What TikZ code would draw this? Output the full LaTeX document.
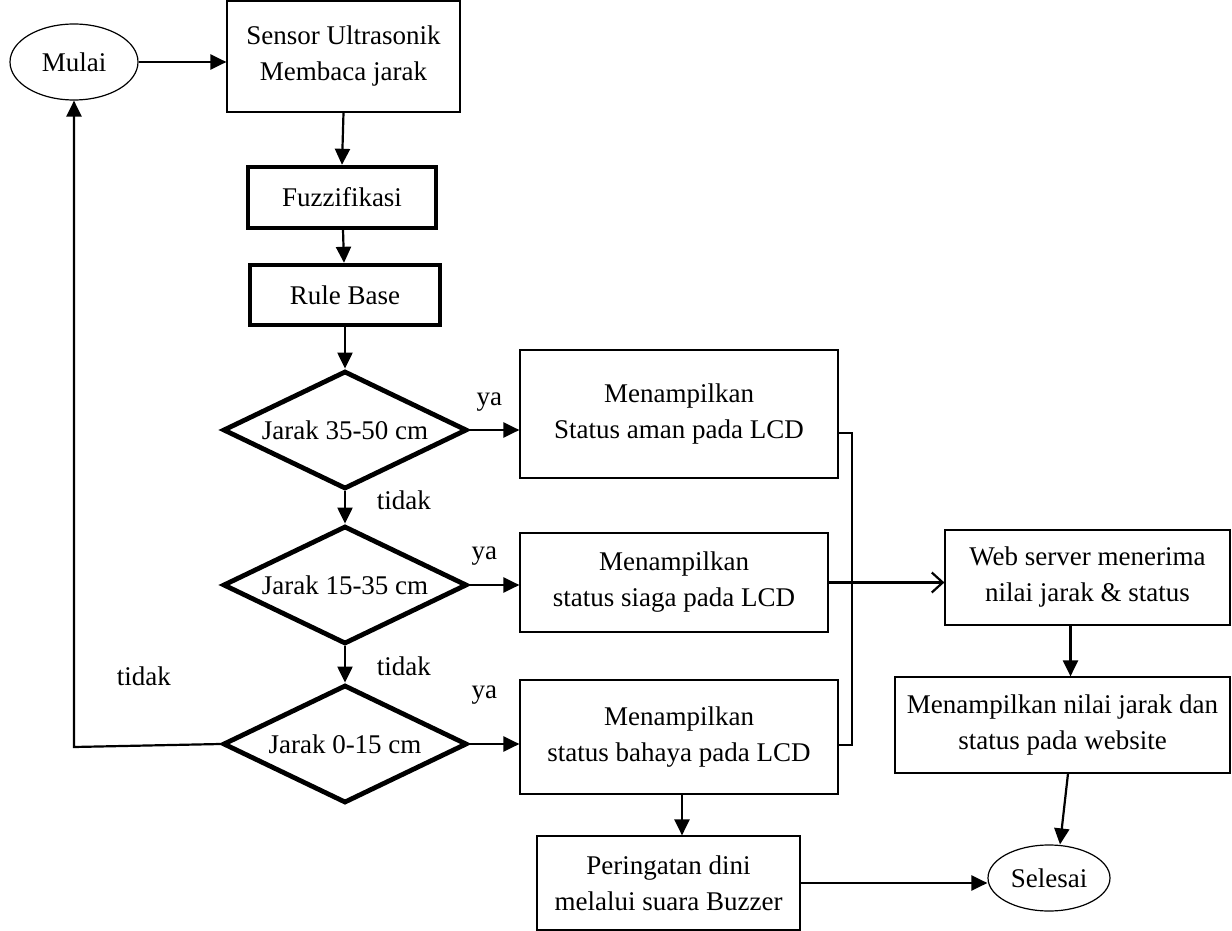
\documentclass[tikz,border=0pt]{standalone}
\usepackage{fontspec}
\setmainfont{Liberation Serif}
\usetikzlibrary{positioning,arrows.meta,shapes.geometric,calc}

\begin{document}
\begin{tikzpicture}[x=.5pt,y=-.5pt,font=\fontsize{13.5}{18}\selectfont,
 b/.style={draw,line width=.6pt,align=center,inner sep=0pt},
 tb/.style={b,line width=2.2pt},
 d/.style={diamond,aspect=2,draw,line width=2.4pt,inner sep=0pt,minimum width=122pt,minimum height=59pt},
 el/.style={ellipse,draw,line width=.6pt,inner sep=0pt},
 a/.style={-{Triangle[length=8pt,width=7.5pt]},line width=1.1pt},
 o/.style={-{Straight Barb[length=5.5pt,width=10pt]},line width=1.1pt},
 l/.style={line width=.9pt}]
\useasboundingbox (0,0) rectangle (1232,931);
\node[el,minimum width=64pt,minimum height=38pt] (mulai) at (74,62) {Mulai};
\node[b,minimum width=116.5pt,minimum height=55.5pt] (sensor) at (343.5,56.5) {Sensor Ultrasonik\\Membaca jarak};
\node[tb,minimum width=94pt,minimum height=30.5pt] (fuzz) at (342,197.5) {Fuzzifikasi};
\node[tb,minimum width=95pt,minimum height=30pt] (rule) at (345,295) {Rule Base};
\node[d] (d1) at (345,430) {Jarak 35-50 cm};
\node[d] (d2) at (345,585) {Jarak 15-35 cm};
\node[d] (d3) at (345,744) {Jarak 0-15 cm};
\node[b,minimum width=159pt,minimum height=64pt] (aman) at (679,414) {Menampilkan\\Status aman pada LCD};
\node[b,minimum width=154pt,minimum height=49.5pt] (siaga) at (674,582.5) {Menampilkan\\status siaga pada LCD};
\node[b,minimum width=159pt,minimum height=57pt] (bahaya) at (679,737) {Menampilkan\\status bahaya pada LCD};
\node[b,minimum width=131.5pt,minimum height=47pt] (buzz) at (668.5,883) {Peringatan dini\\melalui suara Buzzer};
\node[b,minimum width=142.5pt,minimum height=47.5pt] (web) at (1087.5,577.5) {Web server menerima\\nilai jarak \& status};
\node[b,minimum width=167.5pt,minimum height=48pt] (web2) at (1062.5,725) {Menampilkan nilai jarak dan\\status pada website};
\node[el,minimum width=61pt,minimum height=33pt] (selesai) at (1049,878) {Selesai};
\coordinate (j1) at (852,433);
\coordinate (j3) at (852,745);
\coordinate (back) at (74,747);
% alur utama
\draw[a] (mulai.east) -- (mulai.east -| sensor.west);
\draw[a] (sensor.south) -- (fuzz.north);
\draw[a] (fuzz) -- (rule);
\draw[a] (rule) -- (d1);
\draw[a] (d1) -- node[pos=.26,right=12pt] {tidak} (d2);
\draw[a] (d2) -- node[pos=.56,right=12pt] {tidak} (d3);
\draw[a] (d1.east) -- node[above=5.5pt,pos=.4] {ya} (d1.east -| aman.west);
\draw[a] (d2.east) -- node[above=6pt,pos=.3] {ya} (d2.east -| siaga.west);
\draw[a] (d3.east) -- node[above=16pt,pos=.3] {ya} (d3.east -| bahaya.west);
\draw[a] (d3.west) -- (back) -- node[pos=.11,right=17.5pt] {tidak} (mulai.south);
% status ke web
\draw[l] (j1 -| aman.east) -- (j1) -- (j3) -- (j3 -| bahaya.east);
\draw[o] (siaga.east) -- (siaga.east -| web.west);
\draw[a] ([xshift=-8.5pt]web.south) -- ([xshift=-8.5pt]web.south |- web2.north);
\draw[a] ([xshift=2.75pt]web2.south) -- ([xshift=5.5pt]selesai.north);
\draw[a] ([xshift=1.5pt]bahaya.south) -- ([xshift=1.5pt]bahaya.south |- buzz.north);
\draw[a] (buzz.east) -- (buzz.east -| selesai.west);
\end{tikzpicture}
\end{document}
